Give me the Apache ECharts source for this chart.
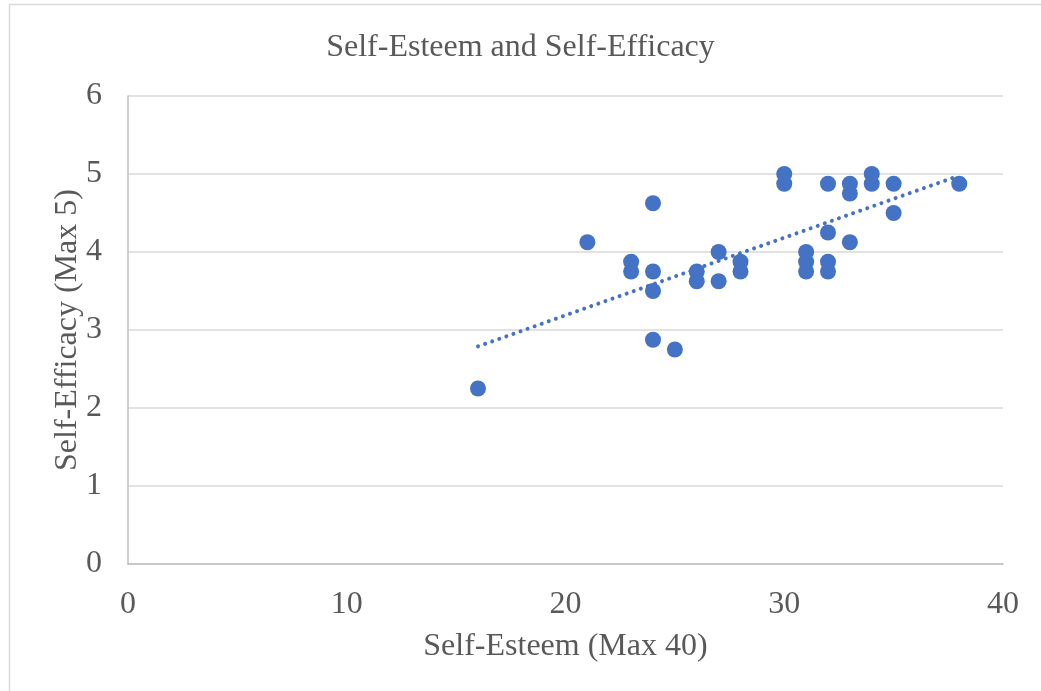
<!DOCTYPE html>
<html>
<head>
<meta charset="utf-8">
<script src="https://cdn.jsdelivr.net/npm/echarts@6/dist/echarts.min.js"></script>
<style>
html,body{margin:0;padding:0;background:#fff;}
#c{width:1041px;height:691px;}
</style>
</head>
<body>
<div id="c"></div>
<script>
const selfEsteem = [16,21,23,23,24,24,24,24,25,26,26,27,27,28,28,30,30,31,31,31,32,32,32,32,33,33,33,34,34,35,35,38];
const selfEfficacy = [2.25,4.125,3.875,3.75,4.625,3.75,3.5,2.875,2.75,3.75,3.625,4.0,3.625,3.875,3.75,5.0,4.875,4.0,3.875,3.75,4.875,4.25,3.875,3.75,4.875,4.75,4.125,5.0,4.875,4.875,4.5,4.875];
const trendX = [16, 38];
const trendY = [2.79, 4.98];
const xTicks = [0,10,20,30,40];
const yTicks = [0,1,2,3,4,5,6];

const chart = echarts.init(document.getElementById('c'));
const font = '"Liberation Serif","Times New Roman",serif';
chart.setOption({
  animation:false,
  backgroundColor:'#fff',
  title:{text:'Self-Esteem and Self-Efficacy',left:'center',top:27,
    textStyle:{fontFamily:font,fontSize:32,fontWeight:'normal',color:'#595959'}},
  graphic:[{type:'rect',shape:{x:9.5,y:4.5,width:1040,height:700},
    style:{fill:'none',stroke:'#d9d9d9',lineWidth:1.5},silent:true}],
  grid:{left:128,right:38,top:96,bottom:127},
  xAxis:{type:'value',min:0,max:40,interval:10,
    name:'Self-Esteem (Max 40)',nameLocation:'middle',nameGap:67,nameMoveOverlap:false,
    nameTextStyle:{fontFamily:font,fontSize:32,color:'#595959'},
    axisLine:{show:true,lineStyle:{color:'#bfbfbf',width:1.5}},
    axisTick:{show:false},
    axisLabel:{fontFamily:font,fontSize:32,color:'#595959',margin:25,
      formatter:v=>xTicks.includes(v)?String(v):''},
    splitLine:{show:false}},
  yAxis:{type:'value',min:0,max:6,interval:1,
    name:'Self-Efficacy (Max 5)',nameLocation:'middle',nameGap:44,nameMoveOverlap:false,
    nameTextStyle:{fontFamily:font,fontSize:32,color:'#595959'},
    axisLine:{show:true,lineStyle:{color:'#bfbfbf',width:1.5}},
    axisTick:{show:false},
    axisLabel:{fontFamily:font,fontSize:32,color:'#595959',margin:26,
      formatter:v=>yTicks.includes(v)?String(v):''},
    splitLine:{show:true,lineStyle:{color:'#d9d9d9',width:1.5}}},
  series:[
    {type:'scatter',symbol:'circle',symbolSize:16,
      itemStyle:{color:'#4472C4',opacity:1},
      data:selfEsteem.map((x,i)=>[x,selfEfficacy[i]])},
    {type:'line',symbol:'none',silent:true,
      lineStyle:{color:'#4472C4',width:4,type:[0.01,7.5],cap:'round'},
      data:trendX.map((x,i)=>[x,trendY[i]])}
  ]
});
</script>
</body>
</html>
